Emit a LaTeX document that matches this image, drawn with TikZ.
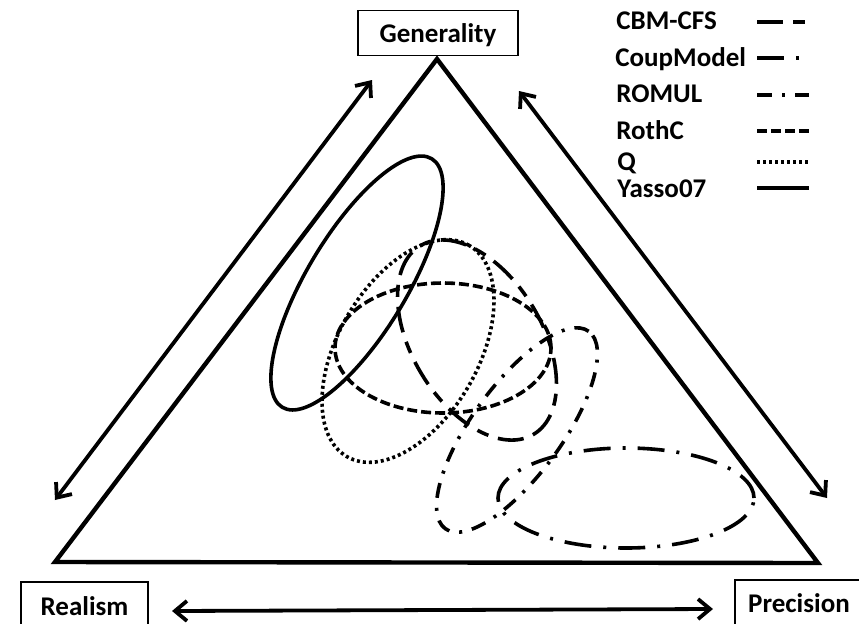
\documentclass[tikz,border=0pt]{standalone}
\usepackage{fontspec}
\setmainfont{Carlito}
\usetikzlibrary{arrows.meta}

\begin{document}
\begin{tikzpicture}[x=0.5pt,y=0.5pt,
  every node/.style={font=\fontsize{13.5}{16}\selectfont\bfseries},
  corner/.style={draw,line width=0.8pt,inner sep=0pt,text height=11pt,text depth=2pt},
  key/.style={anchor=base west,inner sep=0pt},
  side/.style={line width=2.2pt,line join=miter},
  axis/.style={line width=1.9pt,{Straight Barb[length=6pt,width=10pt]}-{Straight Barb[length=6pt,width=10pt]}},
  model/.style={line width=1.8pt},
  cbm/.style={model,dash pattern=on 13pt off 5pt on 6pt off 5pt},
  coup/.style={model,dash pattern=on 13.5pt off 6pt on 1.5pt off 6pt},
  romul/.style={model,dash pattern=on 7.5pt off 5pt on 1.5pt off 5pt},
  rothc/.style={model,dash pattern=on 5pt off 2pt},
  qmodel/.style={model,dash pattern=on 1.5pt off 1.5pt},
  yasso/.style={model}]

\clip (0,0) rectangle (859,-623);

% triangle
\coordinate (tipG) at (437,-59);
\coordinate (tipR) at (55,-562);
\coordinate (tipP) at (818,-563);
\draw[side] (tipR) -- (tipG) -- (tipP) -- cycle;

% corner labels
\node (gen) at (438,-33) [corner,minimum width=80pt,minimum height=22.5pt] {Generality};
\node (real) at (84.5,-606) [corner,minimum width=63.5pt,minimum height=24pt] {Realism};
\node (prec) at (799,-603) [corner,minimum width=64pt,minimum height=23pt] {Precision};

% trade-off arrows
\coordinate (gr1) at (372,-80);
\coordinate (gr2) at (55,-500);
\coordinate (gp1) at (519,-91);
\coordinate (gp2) at (827,-498);
\coordinate (rp1) at (172,-611);
\coordinate (rp2) at (713,-609);
\draw[axis] (gr2) -- (gr1);
\draw[axis] (gp1) -- (gp2);
\draw[axis] (rp1) -- (rp2);

% model ellipses
\draw[yasso,rotate around={59:(357,-283)}] (357,-283) ellipse [x radius=145,y radius=50];
\draw[qmodel,rotate around={60:(408,-351)}] (408,-351) ellipse [x radius=122,y radius=70];
\draw[rothc] (443,-348) ellipse [x radius=108,y radius=65];
\draw[cbm,rotate around={-59:(477,-340)}] (477,-340) ellipse [x radius=110,y radius=65];
\draw[romul,rotate around={54:(517,-430)}] (517,-430) ellipse [x radius=122,y radius=45];
\draw[coup] (626,-498) ellipse [x radius=128,y radius=50];

% legend
\node[key] (kcbm) at (616,-29) {CBM-CFS};
\draw[cbm,line width=2.2pt] (757,-22) -- (809,-22);
\node[key] (kcoup) at (615,-66) {CoupModel};
\draw[coup,line width=2.2pt] (757,-58) -- (809,-58);
\node[key] (kromul) at (616,-102) {ROMUL};
\draw[romul,line width=2.2pt] (757,-95) -- (809,-95);
\node[key] (krothc) at (616,-139) {RothC};
\draw[rothc,line width=2.2pt] (757,-131) -- (809,-131);
\node[key] (kq) at (617,-170) {Q};
\draw[qmodel,line width=2.2pt] (757,-162) -- (809,-162);
\node[key] (kyasso) at (617,-197) {Yasso07};
\draw[yasso,line width=2.2pt] (757,-188) -- (809,-188);

\end{tikzpicture}
\end{document}
